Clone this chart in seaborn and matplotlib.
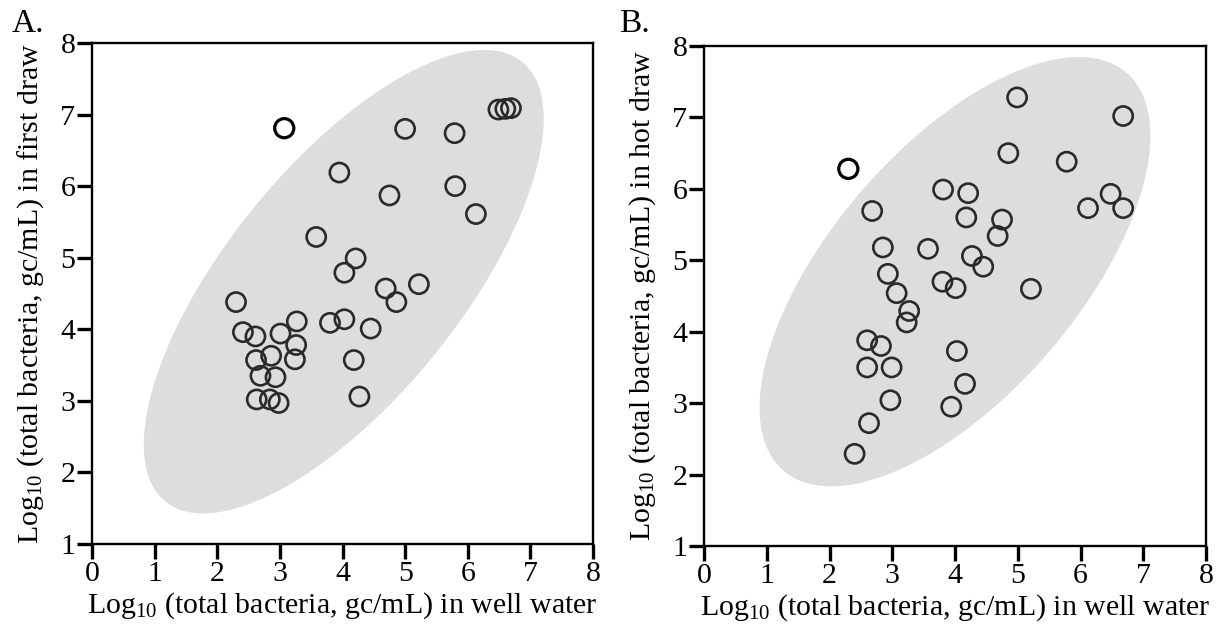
import numpy as np
import pandas as pd
import matplotlib.pyplot as plt
import seaborn as sns

# Panel A: well water vs first draw (log10 gc/mL)
well_a = [5.00, 5.79, 6.49, 6.60, 6.69, 3.95, 4.75, 5.80, 6.13, 3.58,
          4.21, 4.03, 4.69, 4.86, 5.22, 2.30, 3.27, 3.80, 4.03, 4.45,
          2.41, 2.61, 3.01, 3.26, 2.86, 2.62, 3.24, 4.18, 2.69, 2.93,
          2.63, 2.84, 2.98, 4.27]
first_draw = [6.80, 6.74, 7.07, 7.08, 7.09, 6.19, 5.87, 6.00, 5.61, 5.29,
              4.99, 4.79, 4.57, 4.38, 4.63, 4.38, 4.11, 4.09, 4.14, 4.01,
              3.96, 3.90, 3.94, 3.78, 3.63, 3.57, 3.58, 3.57, 3.35, 3.33,
              3.02, 3.02, 2.97, 3.06]
outlier_a_x = [3.07]
outlier_a_y = [6.81]

# Panel B: well water vs hot draw
well_b = [4.99, 6.68, 4.85, 5.78, 3.81, 4.21, 6.48, 6.12, 6.68, 2.68,
          4.18, 4.75, 4.68, 2.85, 3.57, 4.27, 4.45, 2.93, 3.80, 4.01,
          5.21, 3.07, 3.27, 3.23, 2.60, 2.82, 4.03, 2.60, 2.99, 4.16,
          2.97, 3.94, 2.63, 2.40]
hot_draw = [7.28, 7.02, 6.50, 6.38, 5.99, 5.94, 5.93, 5.73, 5.73, 5.69,
            5.60, 5.57, 5.34, 5.18, 5.16, 5.06, 4.91, 4.81, 4.70, 4.61,
            4.60, 4.54, 4.29, 4.13, 3.88, 3.80, 3.73, 3.50, 3.50, 3.27,
            3.04, 2.95, 2.72, 2.29]
outlier_b_x = [2.30]
outlier_b_y = [6.28]

# shaded ellipse regions: centre and semi-axis vectors in data units
ellipse_a = {"center": (4.02, 4.665), "major": (2.85, 3.07), "minor": (1.44, -1.03)}
ellipse_b = {"center": (4.0, 4.84), "major": (2.74, 2.78), "minor": (1.48, -1.14)}

sns.set_theme(style="white")
plt.rcParams['font.family'] = ['Liberation Serif', 'DejaVu Serif']
plt.rcParams['mathtext.fontset'] = 'custom'
plt.rcParams['mathtext.rm'] = 'Liberation Serif'
plt.rcParams['mathtext.it'] = 'Liberation Serif:italic'

fig = plt.figure(figsize=(12.17, 6.27), dpi=100)
ax_a = fig.add_axes([92 / 1217, (627 - 544) / 627, 501 / 1217, 501 / 627])
ax_b = fig.add_axes([704 / 1217, (627 - 546) / 627, 502 / 1217, 500 / 627])

panels = [
    (ax_a, well_a, first_draw, outlier_a_x, outlier_a_y, ellipse_a, "first draw", "A.", 12),
    (ax_b, well_b, hot_draw, outlier_b_x, outlier_b_y, ellipse_b, "hot draw", "B.", 619),
]

t = np.linspace(0, 2 * np.pi, 300)
for ax, xs, ys, ox, oy, ell, ylab, letter, letter_x in panels:
    cx, cy = ell["center"]
    ex = cx + ell["major"][0] * np.cos(t) + ell["minor"][0] * np.sin(t)
    ey = cy + ell["major"][1] * np.cos(t) + ell["minor"][1] * np.sin(t)
    ax.fill(ex, ey, color='#dddddd', lw=0, zorder=0)

    df = pd.DataFrame({'well': xs, 'tap': ys})
    sns.scatterplot(data=df, x='well', y='tap', ax=ax, marker='o', s=190,
                    facecolors='none', edgecolor='#2a2a2a', linewidth=1.9, zorder=3)
    sns.scatterplot(x=ox, y=oy, ax=ax, marker='o', s=190,
                    facecolors='none', edgecolor='black', linewidth=2.3, zorder=3)

    ax.set_xlim(0, 8)
    ax.set_ylim(1, 8)
    ax.set_xticks(range(0, 9))
    ax.set_yticks(range(1, 9))
    ax.tick_params(direction='out', length=11, width=2.4, labelsize=21.5,
                   pad=1, color='black', labelcolor='black',
                   bottom=True, left=True)
    for sp in ax.spines.values():
        sp.set_linewidth(1.7)
        sp.set_color('black')
    ax.set_xlabel(r'Log$_{10}$ (total bacteria, gc/mL) in well water',
                  fontsize=21.5, color='black', labelpad=3)
    ax.set_ylabel(r'Log$_{10}$ (total bacteria, gc/mL) in ' + ylab,
                  fontsize=21.5, color='black', labelpad=10)
    fig.text(letter_x / 1217, 1 - 32 / 627, letter, fontsize=24,
             color='black', ha='left', va='baseline')

fig.savefig('out.png', dpi=100)
